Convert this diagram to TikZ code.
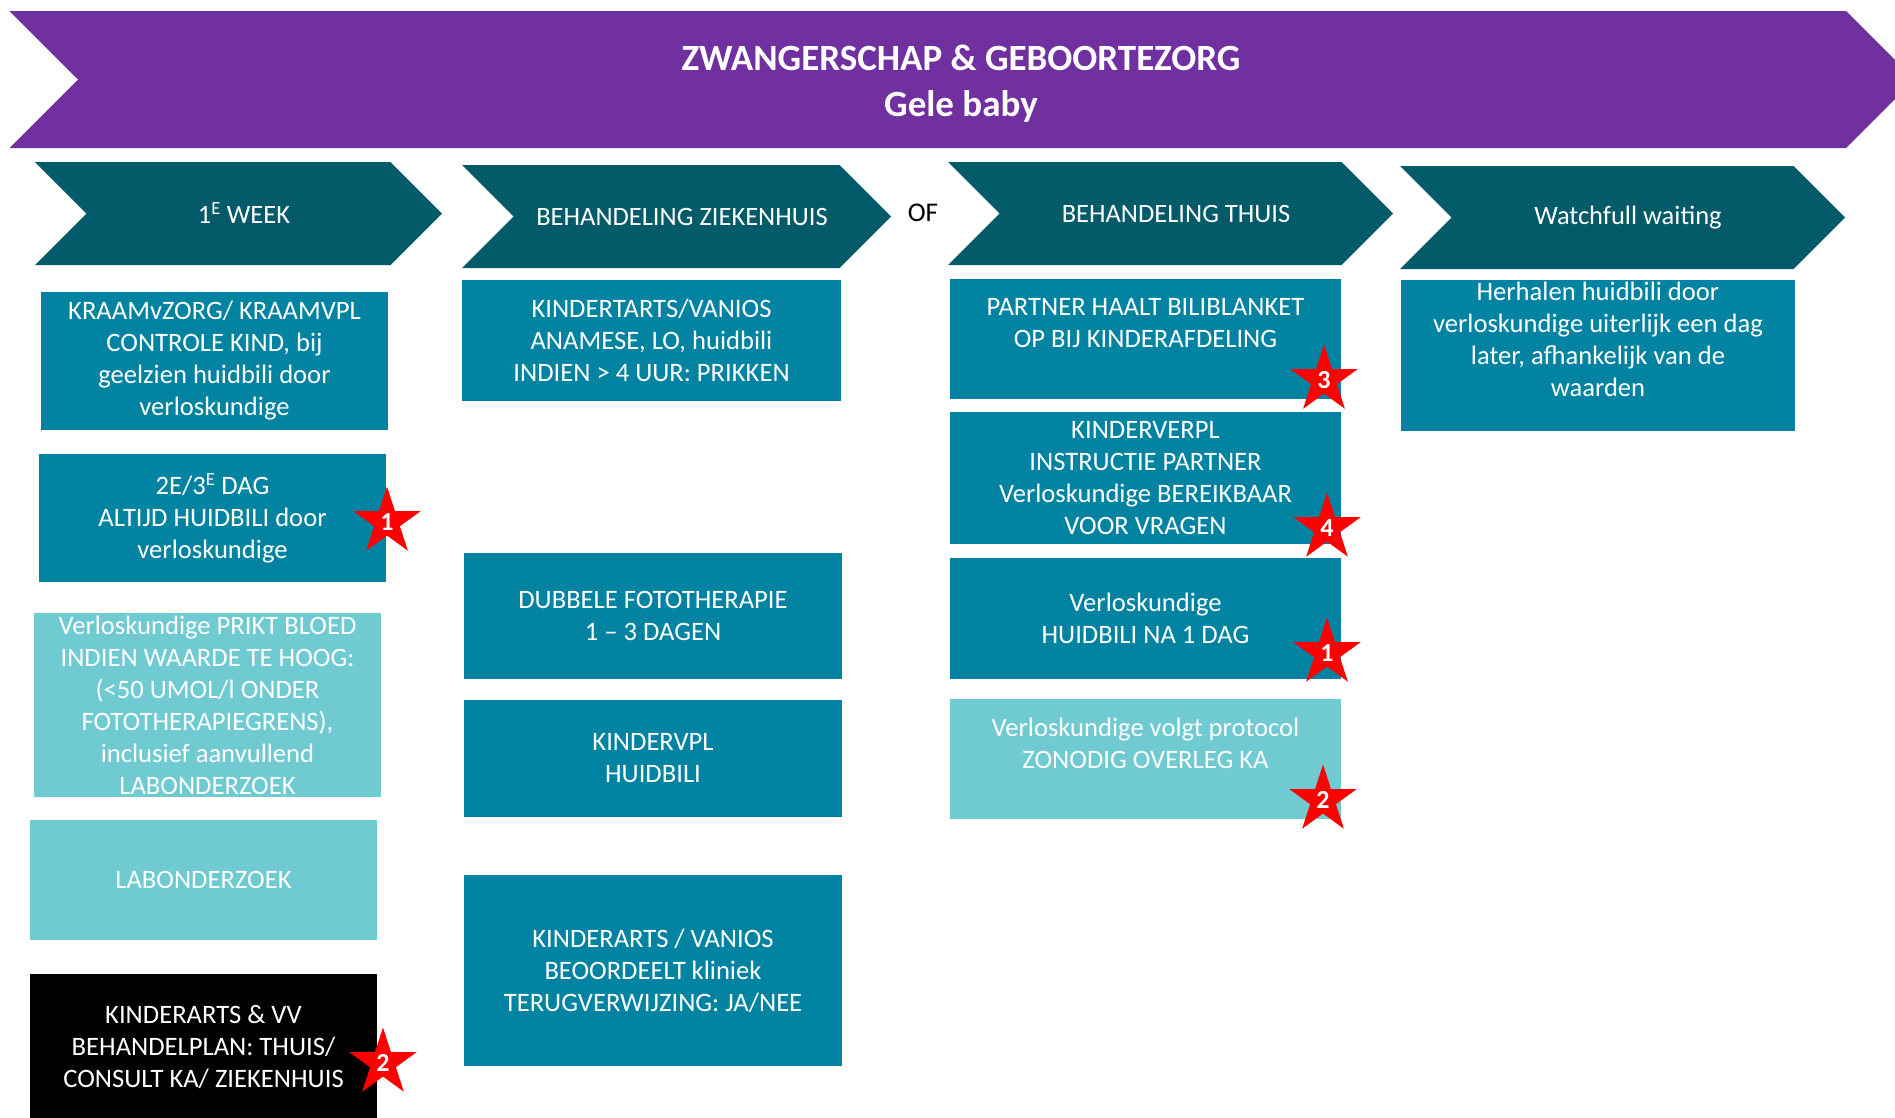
\documentclass[tikz,border=0pt]{standalone}
\usepackage{fontspec}
\setmainfont{Carlito}
\usetikzlibrary{shapes.symbols,shapes.geometric}
\definecolor{paars}{HTML}{7030A0}
\definecolor{donkerteal}{HTML}{035B69}
\definecolor{teal}{HTML}{0283A2}
\definecolor{lichtteal}{HTML}{6FCAD1}
\definecolor{rood}{HTML}{FF0000}

\begin{document}
\begin{tikzpicture}[x=1pt, y=-1pt,
	pijl/.style = {signal, signal to=east, signal from=west, signal pointer angle=90, fill=donkerteal, text=white, inner sep=0pt, font=\fontsize{26.5}{32}\selectfont},
	kop/.style = {pijl, execute at begin node=\hspace*{11pt}},
	blok/.style = {rectangle, fill=teal, text=white, align=center, inner sep=0pt, font=\fontsize{26.6}{32}\selectfont},
	licht/.style = {blok, fill=lichtteal},
	zwart/.style = {blok, fill=black},
	ster/.style = {star, star points=5, star point ratio=2.618, fill=rood, text=white, inner sep=0pt, minimum size=71pt, font=\bfseries\fontsize{26}{26}\selectfont}]
	\clip (0,0) rectangle (1895,1117);

	\node[pijl, fill=paars, minimum width=1905, minimum height=137] (band) at (962,79.5) {};
	\node[text=white, align=center, font=\bfseries\fontsize{37}{46}\selectfont] (titel) at (961,84) {ZWANGERSCHAP \& GEBOORTEZORG\\Gele baby};

	\node[kop, minimum width=407, minimum height=103] (h1) at (238.5,213.5) {1\textsuperscript{E} WEEK};
	\node[kop, minimum width=429, minimum height=103] (h2) at (676.5,216.5) {BEHANDELING ZIEKENHUIS};
	\node[font=\fontsize{27}{32}\selectfont] (of) at (923,213) {OF};
	\node[kop, minimum width=445, minimum height=103] (h3) at (1170.5,213.5) {BEHANDELING THUIS};
	\node[kop, minimum width=445, minimum height=103] (h4) at (1622.5,217.5) {Watchfull waiting};

	\node[blok, minimum width=347, minimum height=138] (w1) at (214.5,361) {KRAAMvZORG/ KRAAMVPL\\CONTROLE KIND, bij\\geelzien huidbili door\\verloskundige};
	\node[blok, minimum width=347, minimum height=128] (w2) at (212.5,518) {2E/3\textsuperscript{E} DAG\\ALTIJD HUIDBILI door\\verloskundige};
	\node[licht, minimum width=347, minimum height=184] (w3) at (207.5,705) {Verloskundige PRIKT BLOED\\INDIEN WAARDE TE HOOG:\\(<50 UMOL/l ONDER\\FOTOTHERAPIEGRENS),\\inclusief aanvullend\\LABONDERZOEK};
	\node[licht, minimum width=347, minimum height=120] (w4) at (203.5,880) {LABONDERZOEK};
	\node[zwart, minimum width=347, minimum height=146] (w5) at (203.5,1047) {KINDERARTS \& VV\\BEHANDELPLAN: THUIS/\\CONSULT KA/ ZIEKENHUIS};

	\node[blok, minimum width=379, minimum height=121] (z1) at (651.5,340.5) {KINDERTARTS/VANIOS\\ANAMESE, LO, huidbili\\INDIEN > 4 UUR: PRIKKEN};
	\node[blok, minimum width=378, minimum height=126] (z2) at (653,616) {DUBBELE FOTOTHERAPIE\\1 -- 3 DAGEN};
	\node[blok, minimum width=378, minimum height=117] (z3) at (653,758.5) {KINDERVPL\\HUIDBILI};
	\node[blok, minimum width=378, minimum height=191] (z4) at (653,970.5) {KINDERARTS / VANIOS\\BEOORDEELT kliniek\\TERUGVERWIJZING: JA/NEE};

	\node[blok, minimum width=391, minimum height=120] (t1) at (1145.5,339) {PARTNER HAALT BILIBLANKET\\OP BIJ KINDERAFDELING\\~};
	\node[blok, minimum width=391, minimum height=132] (t2) at (1145.5,478) {KINDERVERPL\\INSTRUCTIE PARTNER\\Verloskundige BEREIKBAAR\\VOOR VRAGEN};
	\node[blok, minimum width=391, minimum height=121] (t3) at (1145.5,618.5) {Verloskundige\\HUIDBILI NA 1 DAG};
	\node[licht, minimum width=391, minimum height=120] (t4) at (1145.5,759) {Verloskundige volgt protocol\\ZONODIG OVERLEG KA\\~};

	\node[blok, minimum width=394, minimum height=151] (ww1) at (1598,355.5) {Herhalen huidbili door\\verloskundige uiterlijk een dag\\later, afhankelijk van de\\waarden\\~};

	\node[ster] (s1) at (387,522) {1};
	\node[ster] (s2) at (383,1063) {2};
	\node[ster] (s3) at (1324,380) {3};
	\node[ster] (s4) at (1327,528) {4};
	\node[ster] (s5) at (1327,653) {1};
	\node[ster] (s6) at (1323,800) {2};
\end{tikzpicture}
\end{document}
